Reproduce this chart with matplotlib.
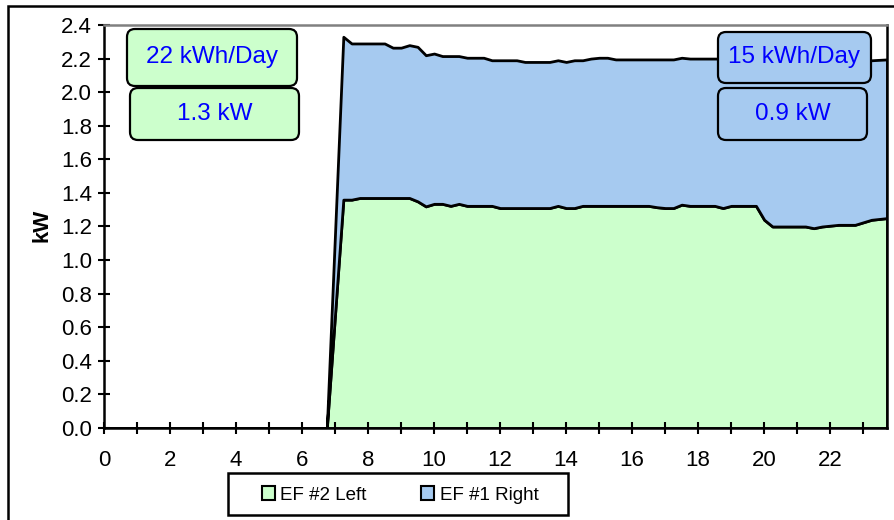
import matplotlib
matplotlib.use("Agg")
import matplotlib.pyplot as plt
from matplotlib.patches import FancyBboxPatch, Rectangle, Patch

plt.rcParams["font.family"] = ["Liberation Sans", "DejaVu Sans"]

# hour of day
hours = [0, 6.75, 7.25, 7.5, 7.75, 8.5, 8.75, 9.0, 9.25, 9.5, 9.75, 10.0,
         10.25, 10.5, 10.75, 11.0, 11.25, 11.5, 11.75, 12.0, 12.5, 12.75,
         13.5, 13.75, 14.0, 14.25, 14.5, 14.75, 15.0, 15.25, 15.5, 16.5,
         16.75, 17.0, 17.25, 17.5, 17.75, 18.5, 18.75, 19.0, 19.75, 20.0,
         20.25, 21.25, 21.5, 21.75, 22.25, 22.75, 23.25, 23.72]

# kW, exhaust fan #2 (left)
ef2_left = [0, 0, 1.36, 1.36, 1.37, 1.37, 1.37, 1.37, 1.37, 1.35, 1.32, 1.335,
            1.335, 1.323, 1.335, 1.323, 1.323, 1.323, 1.323, 1.31, 1.31, 1.31,
            1.31, 1.323, 1.31, 1.31, 1.323, 1.323, 1.323, 1.323, 1.323, 1.323,
            1.315, 1.31, 1.31, 1.33, 1.323, 1.323, 1.31, 1.323, 1.323, 1.24,
            1.20, 1.20, 1.19, 1.20, 1.21, 1.21, 1.24, 1.25]

# kW, exhaust fan #1 (right), stacked on top
ef1_right = [0, 0, 0.97, 0.93, 0.92, 0.92, 0.895, 0.895, 0.91, 0.92, 0.90, 0.895,
             0.88, 0.892, 0.88, 0.882, 0.882, 0.882, 0.867, 0.88, 0.88, 0.87,
             0.87, 0.867, 0.87, 0.88, 0.867, 0.877, 0.882, 0.882, 0.872, 0.872,
             0.88, 0.885, 0.885, 0.875, 0.877, 0.877, 0.89, 0.877, 0.877, 0.96,
             1.0, 1.0, 1.0, 0.99, 0.98, 0.98, 0.95, 0.945]

series_names = ["EF #2 Left", "EF #1 Right"]
green = "#CCFFCC"
blue = "#A6CAF0"

W, H = 894, 520
fig = plt.figure(figsize=(W / 100, H / 100), dpi=100)
ax = fig.add_axes([104 / W, 1 - 428 / H, (887 - 104) / W, (428 - 25) / H])

ax.stackplot(hours, ef2_left, ef1_right, colors=[green, blue],
             edgecolor="black", linewidth=2)

ax.set_xlim(0, 23.72)
ax.set_ylim(0, 2.4)
ax.set_xticks(range(0, 24))
ax.set_xticklabels([str(h) if h % 2 == 0 else "" for h in range(0, 24)])
ax.set_yticks([i * 0.2 for i in range(13)])
ax.set_yticklabels([f"{i * 0.2:.1f}" for i in range(13)])
ax.tick_params(axis="both", direction="inout", length=9, width=1.5,
               labelsize=16, colors="black")
ax.tick_params(axis="x", pad=11)
ax.tick_params(axis="y", pad=4)

for side in ["left", "bottom", "right"]:
    ax.spines[side].set_linewidth(1.8)
    ax.spines[side].set_color("black")
ax.spines["top"].set_color("#808080")
ax.spines["top"].set_linewidth(1.8)

fig.text(42 / W, 1 - 225 / H, "kW", rotation=90, ha="center", va="center",
         fontsize=16, fontweight="bold")

# outer chart frame
fig.add_artist(Rectangle((8 / W, -0.1), 1.2, 1.1 - 6 / H,
                         transform=fig.transFigure, fill=False,
                         edgecolor="black", linewidth=1.8))

# annotation boxes, in pixel positions of the figure
boxes = [
    (127, 29, 297, 86, "22 kWh/Day", green),
    (130, 88, 299, 140, "1.3 kW", green),
    (718, 32, 871, 83, "15 kWh/Day", blue),
    (718, 88, 867, 140, "0.9 kW", blue),
]
for x0, y0, x1, y1, label, fc in boxes:
    patch = FancyBboxPatch((x0 / 100, (H - y1) / 100), (x1 - x0) / 100,
                           (y1 - y0) / 100,
                           boxstyle="round,pad=0,rounding_size=0.08",
                           transform=fig.dpi_scale_trans, facecolor=fc,
                           edgecolor="black", linewidth=1.6, zorder=5)
    fig.add_artist(patch)
    fig.text((x0 + x1) / 2 / W, 1 - (y0 + y1) / 2 / H, label, ha="center",
             va="center", fontsize=17.5, color="#0000FF", zorder=6)

# legend frame drawn separately, it is much wider than its entries
fig.add_artist(Rectangle((228 / 100, (H - 515) / 100), 340 / 100, 42 / 100,
                         transform=fig.dpi_scale_trans, facecolor="white",
                         edgecolor="black", linewidth=1.8, zorder=4))
handles = [Patch(facecolor=green, edgecolor="black", linewidth=1.5),
           Patch(facecolor=blue, edgecolor="black", linewidth=1.5)]
leg = fig.legend(handles, series_names, loc="center",
                 bbox_to_anchor=(400 / W, 1 - 495 / H), ncol=2,
                 fontsize=13.5, frameon=False, handlelength=0.7,
                 handleheight=0.7, handletextpad=0.3, columnspacing=2.9,
                 borderpad=0, borderaxespad=0)
leg.set_zorder(6)

fig.savefig("out.png", dpi=100)
